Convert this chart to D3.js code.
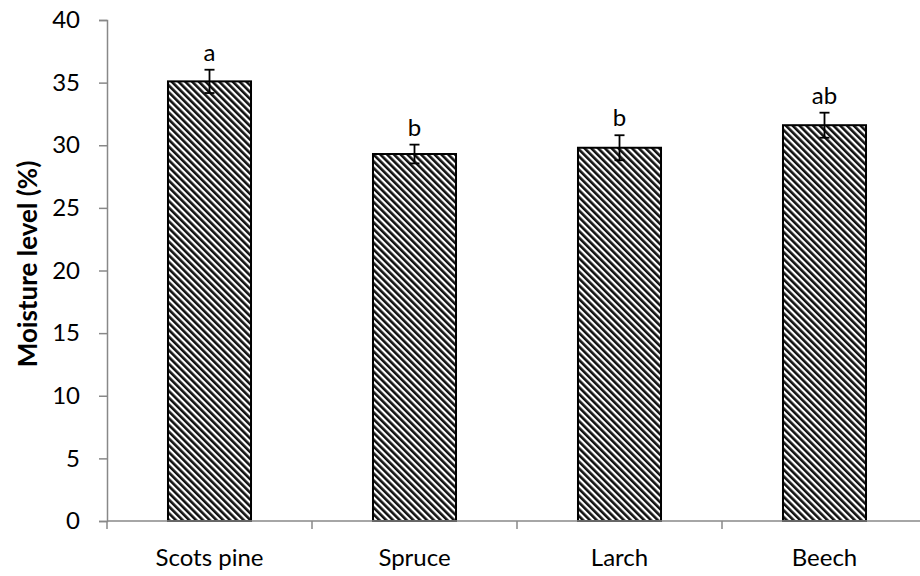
<!DOCTYPE html>
<html>
<head>
<meta charset="utf-8">
<script src="https://cdn.jsdelivr.net/npm/d3@7"></script>
<style>
  body { margin: 0; background: #fff; }
  text { font-family: Lato, "Open Sans", sans-serif; fill: #000; }
</style>
</head>
<body>
<svg width="920" height="576"></svg>
<script>
// chart values
const species = ['Scots pine', 'Spruce', 'Larch', 'Beech']
const moisture = [35.1, 29.3, 29.8, 31.6]
const stdErr = [0.93, 0.75, 1.0, 1.0]
const letters = ['a', 'b', 'b', 'ab']
const yTicks = [0, 5, 10, 15, 20, 25, 30, 35, 40]

const svg = d3.select('svg')
const plotLeft = 107
const plotTop = 20
const plotBottom = 521
const bandW = 205

// x runs past the right edge, like the original
const x = d3.scaleBand()
  .domain(species)
  .range([plotLeft, plotLeft + bandW * species.length])
  .paddingInner(0.595)
  .paddingOuter(0.2975)

const y = d3.scaleLinear()
  .domain([0, 40])
  .range([plotBottom, plotTop])

// diagonal hatch, top-left to bottom-right
const defs = svg.append('defs')
const pat = defs.append('pattern')
  .attr('id', 'hatch')
  .attr('patternUnits', 'userSpaceOnUse')
  .attr('width', 4.8)
  .attr('height', 4.8)
  .attr('patternTransform', 'rotate(-45)')
pat.append('rect').attr('width', 4.8).attr('height', 4.8).attr('fill', '#fff')
pat.append('rect').attr('width', 2.6).attr('height', 4.8).attr('fill', '#111')

// y axis
const yAxis = svg.append('g')
  .attr('transform', 'translate(' + plotLeft + ',0)')
  .call(d3.axisLeft(y).tickValues(yTicks).tickSize(8).tickPadding(19))
yAxis.select('.domain').attr('stroke', '#888').attr('stroke-width', 1.5)
yAxis.selectAll('.tick line').attr('stroke', '#888').attr('stroke-width', 1.5)
yAxis.selectAll('.tick text')
  .style('font-size', '24px')
  .style('font-family', 'Lato, sans-serif')
  .attr('fill', '#000')

// bars
svg.selectAll('rect.bar')
  .data(species)
  .enter().append('rect')
    .attr('class', 'bar')
    .attr('x', function (d) { return x(d) })
    .attr('width', x.bandwidth())
    .attr('y', function (d, i) { return y(moisture[i]) })
    .attr('height', function (d, i) { return y(0) - y(moisture[i]) })
    .attr('fill', 'url(#hatch)')
    .attr('stroke', '#000')
    .attr('stroke-width', 2)

// x axis, ticks sit between the categories
const xAxisG = svg.append('g')
xAxisG.append('line')
  .attr('x1', plotLeft).attr('x2', 920)
  .attr('y1', plotBottom).attr('y2', plotBottom)
  .attr('stroke', '#888').attr('stroke-width', 1.5)
xAxisG.selectAll('line.sep')
  .data(species)
  .enter().append('line')
    .attr('class', 'sep')
    .attr('x1', function (d) { return x(d) - x.step() * x.paddingOuter() })
    .attr('x2', function (d) { return x(d) - x.step() * x.paddingOuter() })
    .attr('y1', plotBottom).attr('y2', plotBottom + 8)
    .attr('stroke', '#888').attr('stroke-width', 1.5)
xAxisG.selectAll('text')
  .data(species)
  .enter().append('text')
    .attr('x', function (d) { return x(d) + x.bandwidth() / 2 })
    .attr('y', 566)
    .attr('text-anchor', 'middle')
    .style('font-size', '24px')
    .text(function (d) { return d })

// error bars
const err = svg.append('g').attr('stroke', '#000').attr('stroke-width', 1.8)
species.forEach(function (d, i) {
  const cx = x(d) + x.bandwidth() / 2
  err.append('line')
    .attr('x1', cx).attr('x2', cx)
    .attr('y1', y(moisture[i] - stdErr[i])).attr('y2', y(moisture[i] + stdErr[i]))
  err.append('line')
    .attr('x1', cx - 5).attr('x2', cx + 5)
    .attr('y1', y(moisture[i] + stdErr[i])).attr('y2', y(moisture[i] + stdErr[i]))
  err.append('line')
    .attr('x1', cx - 5).attr('x2', cx + 5)
    .attr('y1', y(moisture[i] - stdErr[i])).attr('y2', y(moisture[i] - stdErr[i]))
})

// significance letters
svg.selectAll('text.sig')
  .data(species)
  .enter().append('text')
    .attr('class', 'sig')
    .attr('x', function (d) { return x(d) + x.bandwidth() / 2 })
    .attr('y', function (d, i) { return y(moisture[i] + stdErr[i]) - 9 })
    .attr('text-anchor', 'middle')
    .style('font-size', '24px')
    .text(function (d, i) { return letters[i] })

// y label
svg.append('text')
  .attr('transform', 'translate(37,264) rotate(-90)')
  .attr('text-anchor', 'middle')
  .style('font-size', '26px')
  .style('font-weight', 'bold')
  .text('Moisture level (%)')
</script>
</body>
</html>
